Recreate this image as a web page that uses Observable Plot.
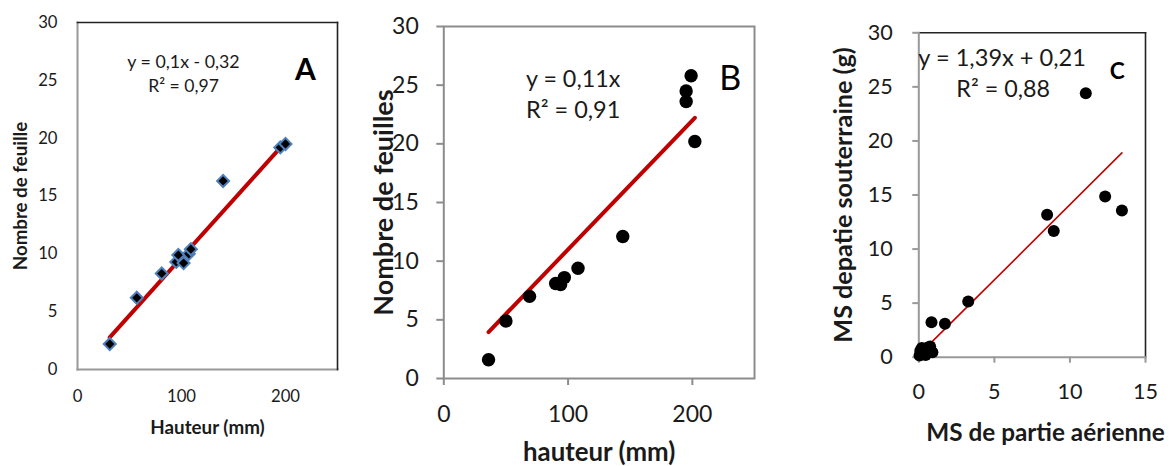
<!DOCTYPE html>
<html><head><meta charset="utf-8">
<script src="https://cdn.jsdelivr.net/npm/d3@7"></script>
<script src="https://cdn.jsdelivr.net/npm/@observablehq/plot@0.6"></script>
<style>
body{margin:0;background:#fff;overflow:hidden}
#wrap{position:relative;width:1173px;height:466px;overflow:hidden;background:#fff}
#wrap svg{position:absolute;top:0;overflow:visible;background:transparent}
</style></head><body><div id="wrap"></div>
<script>
// Panel A: Hauteur (mm) vs Nombre de feuille
const aHauteur  = [31, 57, 81, 95, 97, 102, 107, 109, 140, 195, 200];
const aFeuilles = [2.2, 6.2, 8.3, 9.3, 9.9, 9.2, 10.0, 10.4, 16.3, 19.2, 19.5];
const aFit = {slope: 0.1, intercept: -0.32, eq: "y = 0,1x - 0,32", r2: "R² = 0,97"};
// Panel B: hauteur (mm) vs Nombre de feuilles
const bHauteur  = [36, 50, 69, 90, 94, 97, 108, 144, 195, 195, 199, 202];
const bFeuilles = [1.6, 4.9, 7.0, 8.1, 8.0, 8.6, 9.4, 12.1, 23.6, 24.5, 25.8, 20.2];
const bFit = {slope: 0.11, intercept: 0, eq: "y = 0,11x", r2: "R² = 0,91"};
// Panel C: MS de partie aérienne vs MS de partie souterraine (g)
const cAerienne    = [0.05, 0.1, 0.2, 0.3, 0.45, 0.6, 0.75, 0.9, 0.84, 1.73, 3.27, 8.49, 8.93, 11.05, 12.33, 13.44];
const cSouterraine = [0.15, 0.6, 0.85, 0.3, 0.2, 0.9, 1.0, 0.45, 3.24, 3.09, 5.15, 13.17, 11.66, 24.4, 14.87, 13.57];
const cFit = {slope: 1.39, intercept: 0.21, eq: "y = 1,39x + 0,21", r2: "R² = 0,88"};

const yTicks = [0, 5, 10, 15, 20, 25, 30];
const xTicksAB = [0, 100, 200];
const xTicksC = [0, 5, 10, 15];

const FONT = "Lato, 'Open Sans', sans-serif";
const TXT = "#1a1a1a";

function pts(xs, ys) { return xs.map((x, i) => ({x, y: ys[i]})); }
function fitLine(xs, fit) {
  const lo = d3.min(xs), hi = d3.max(xs);
  return [lo, hi].map(x => ({x, y: fit.slope * x + fit.intercept}));
}

const wrap = document.getElementById("wrap");
function place(svg, left) { svg.style.left = left + "px"; wrap.appendChild(svg); }

// ---------- A ----------
const A = Plot.plot({
  width: 350, height: 466,
  marginLeft: 77, marginRight: 13, marginTop: 22, marginBottom: 97,
  style: {fontFamily: FONT, color: TXT, background: "transparent"},
  x: {domain: [0, 250]},
  y: {domain: [0, 30]},
  marks: [
    Plot.frame({anchor: "left", stroke: "#999", strokeWidth: 2}),
    Plot.frame({anchor: "bottom", stroke: "#999", strokeWidth: 2}),
    Plot.frame({anchor: "top", stroke: "#222", strokeWidth: 1.6}),
    Plot.frame({anchor: "right", stroke: "#222", strokeWidth: 1.6}),
    Plot.axisY(yTicks, {tickSize: 0, tickPadding: 20, fontSize: 16.7, fill: TXT, label: null}),
    Plot.axisX(xTicksAB, {tickSize: 0, tickPadding: 21, fontSize: 16.7, fill: TXT, label: null}),
    Plot.axisY([], {tickSize: 0, label: "Nombre de feuille", labelAnchor: "center", labelOffset: 64, labelArrow: "none", fontSize: 18.7, fontWeight: "bold", fill: TXT}),
    Plot.axisX([], {tickSize: 0, label: "Hauteur (mm)", labelAnchor: "center", labelOffset: 64.5, labelArrow: "none", fontSize: 18.8, fontWeight: "bold", fill: TXT}),
    Plot.line(fitLine(aHauteur, aFit), {x: "x", y: "y", stroke: "#c00000", strokeWidth: 4}),
    Plot.dot(pts(aHauteur, aFeuilles), {x: "x", y: "y", symbol: "square", r: 4.8, rotate: 45, fill: "#000", stroke: "#4f81bd", strokeWidth: 2}),
    Plot.text([aFit.eq], {frameAnchor: "top", dx: -24, dy: 33, fontSize: 17.8, fill: TXT}),
    Plot.text([aFit.r2], {frameAnchor: "top", dx: -24, dy: 57, fontSize: 17.6, fill: TXT}),
    Plot.text(["A"], {frameAnchor: "top", dx: 98, dy: 36, fontSize: 30, fontWeight: "bold", fill: "#000"})
  ]
});
place(A, 0);

// ---------- B ----------
const B = Plot.plot({
  width: 430, height: 466,
  marginLeft: 93.3, marginRight: 26, marginTop: 26, marginBottom: 88,
  style: {fontFamily: FONT, color: TXT, background: "transparent"},
  x: {domain: [0, 250]},
  y: {domain: [0, 30]},
  marks: [
    Plot.frame({stroke: "#8c8c8c", strokeWidth: 2}),
    Plot.axisY(yTicks, {tickSize: 7, tickPadding: 18, fontSize: 23, fill: TXT, stroke: "#8c8c8c", strokeWidth: 2, label: null}),
    Plot.axisX(xTicksAB, {tickSize: 7, tickPadding: 20, fontSize: 23, fill: TXT, stroke: "#8c8c8c", strokeWidth: 2, label: null}),
    Plot.axisY([], {tickSize: 0, label: "Nombre de feuilles", labelAnchor: "center", labelOffset: 70, labelArrow: "none", fontSize: 27, fontWeight: "bold", fill: TXT}),
    Plot.axisX([], {tickSize: 0, label: "hauteur (mm)", labelAnchor: "center", labelOffset: 82, labelArrow: "none", fontSize: 25.8, fontWeight: "bold", fill: TXT}),
    Plot.line(fitLine(bHauteur, bFit), {x: "x", y: "y", stroke: "#c00000", strokeWidth: 4}),
    Plot.dot(pts(bHauteur, bFeuilles), {x: "x", y: "y", r: 6.7, fill: "#000", stroke: "none"}),
    Plot.text([bFit.eq], {frameAnchor: "top", dx: -26, dy: 44, fontSize: 23.3, fill: TXT}),
    Plot.text([bFit.r2], {frameAnchor: "top", dx: -26, dy: 75, fontSize: 23.5, fill: TXT}),
    Plot.text(["B"], {frameAnchor: "top", dx: 131, dy: 39, fontSize: 34, fill: "#000"})
  ]
});
place(B, 350);

// ---------- C ----------
const C = Plot.plot({
  width: 393, height: 466,
  marginLeft: 138.3, marginRight: 28, marginTop: 32.3, marginBottom: 109.3,
  style: {fontFamily: FONT, color: TXT, background: "transparent"},
  x: {domain: [0, 15]},
  y: {domain: [0, 30]},
  marks: [
    Plot.frame({anchor: "top", stroke: "#222", strokeWidth: 1.6}),
    Plot.frame({anchor: "right", stroke: "#222", strokeWidth: 1.6}),
    Plot.frame({anchor: "left", stroke: "#999", strokeWidth: 2}),
    Plot.frame({anchor: "bottom", stroke: "#999", strokeWidth: 2}),
    Plot.axisY(yTicks, {tickSize: 6, tickPadding: 20, fontSize: 21.6, fill: TXT, stroke: "#999", strokeWidth: 2, label: null}),
    Plot.axisX(xTicksC, {tickSize: 6, tickPadding: 20, fontSize: 21.6, fill: TXT, stroke: "#999", strokeWidth: 2, label: null}),
    Plot.axisY([], {tickSize: 0, label: "MS depatie souterraine (g)", labelAnchor: "center", labelOffset: 85, labelArrow: "none", fontSize: 25.2, fontWeight: "bold", fill: TXT}),
    Plot.text(["MS de partie aérienne"], {frameAnchor: "bottom-left", textAnchor: "start", lineAnchor: "bottom", dx: 7.5, dy: 83.5, fontSize: 24.3, fontWeight: "bold", fill: TXT}),
    Plot.line(fitLine(cAerienne, cFit), {x: "x", y: "y", stroke: "#c00000", strokeWidth: 1.6}),
    Plot.dot(pts(cAerienne, cSouterraine), {x: "x", y: "y", r: 6, fill: "#000", stroke: "none"}),
    Plot.text([cFit.eq], {frameAnchor: "top", dx: -30, dy: 16, fontSize: 23.6, fill: TXT}),
    Plot.text([cFit.r2], {frameAnchor: "top", dx: -29, dy: 48, fontSize: 23.3, fill: TXT}),
    Plot.text(["C"], {frameAnchor: "top", dx: 85, dy: 30, fontSize: 22.7, fontWeight: "bold", fill: "#000"})
  ]
});
place(C, 780);
</script></body></html>
